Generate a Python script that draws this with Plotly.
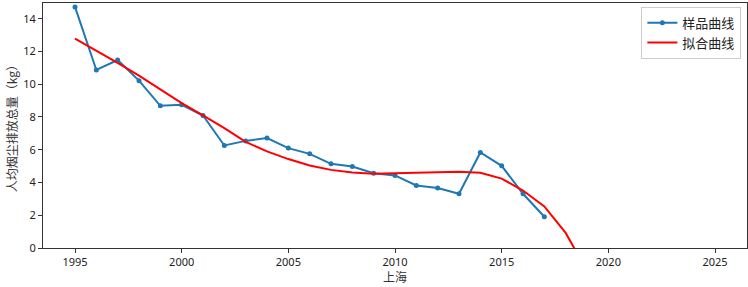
import plotly.graph_objects as go

years = list(range(1995, 2018))
sample = [14.72, 10.87, 11.48, 10.22, 8.68, 8.74, 8.09, 6.26, 6.54, 6.71,
          6.10, 5.75, 5.14, 4.98, 4.57, 4.43, 3.82, 3.66, 3.31, 5.83,
          5.02, 3.31, 1.91]

fit_years = list(range(1995, 2020))
fit_vals = [12.78, 12.05, 11.30, 10.52, 9.68, 8.85, 8.10, 7.32, 6.48, 5.90,
            5.43, 5.04, 4.77, 4.61, 4.53, 4.56, 4.61, 4.65, 4.65, 4.59,
            4.24, 3.51, 2.54, 0.92, -1.40]

xticks = [1995, 2000, 2005, 2010, 2015, 2020, 2025]
yticks = [0, 2, 4, 6, 8, 10, 12, 14]

x_title = "上海"
y_title = "人均烟尘排放总量（kg）"

font_cjk = "Noto Sans CJK SC"

fig = go.Figure()
fig.add_trace(go.Scatter(
    x=years, y=sample, mode="lines+markers", name="样品曲线",
    line=dict(color="#1f77b4", width=2),
    marker=dict(color="#1f77b4", size=5),
))
fig.add_trace(go.Scatter(
    x=fit_years, y=fit_vals, mode="lines", name="拟合曲线",
    line=dict(color="red", width=2),
))

axis_common = dict(
    showgrid=False, zeroline=False, showline=True, linecolor="#333333",
    linewidth=1, mirror=True, ticks="outside", ticklen=4, tickcolor="#333333",
    tickfont=dict(family="Noto Sans", size=11, color="#222222"),
)

fig.update_layout(
    width=748, height=287,
    margin=dict(l=43, r=1, t=3, b=39),
    paper_bgcolor="white", plot_bgcolor="white",
    xaxis=dict(range=[1993.5, 2026.5], tickvals=xticks, **axis_common),
    yaxis=dict(range=[0, 14.96], tickvals=yticks,
               title=dict(text=y_title,
                          font=dict(family=font_cjk, size=12, color="#333333"),
                          standoff=3),
               **axis_common),
    legend=dict(x=0.992, y=0.985, xanchor="right", yanchor="top",
                bgcolor="white", bordercolor="#cccccc", borderwidth=1,
                font=dict(family=font_cjk, size=13, color="#222222"),
                itemwidth=30, tracegroupgap=0),
    showlegend=True,
    annotations=[dict(text=x_title, xref="paper", yref="paper", x=0.5, y=-0.118,
                      xanchor="center", yanchor="middle", showarrow=False,
                      font=dict(family=font_cjk, size=12, color="#333333"))],
)

fig.write_html("out.html", config={"displayModeBar": False},
               post_script="document.body.style.margin='0';document.body.style.overflow='hidden';")
